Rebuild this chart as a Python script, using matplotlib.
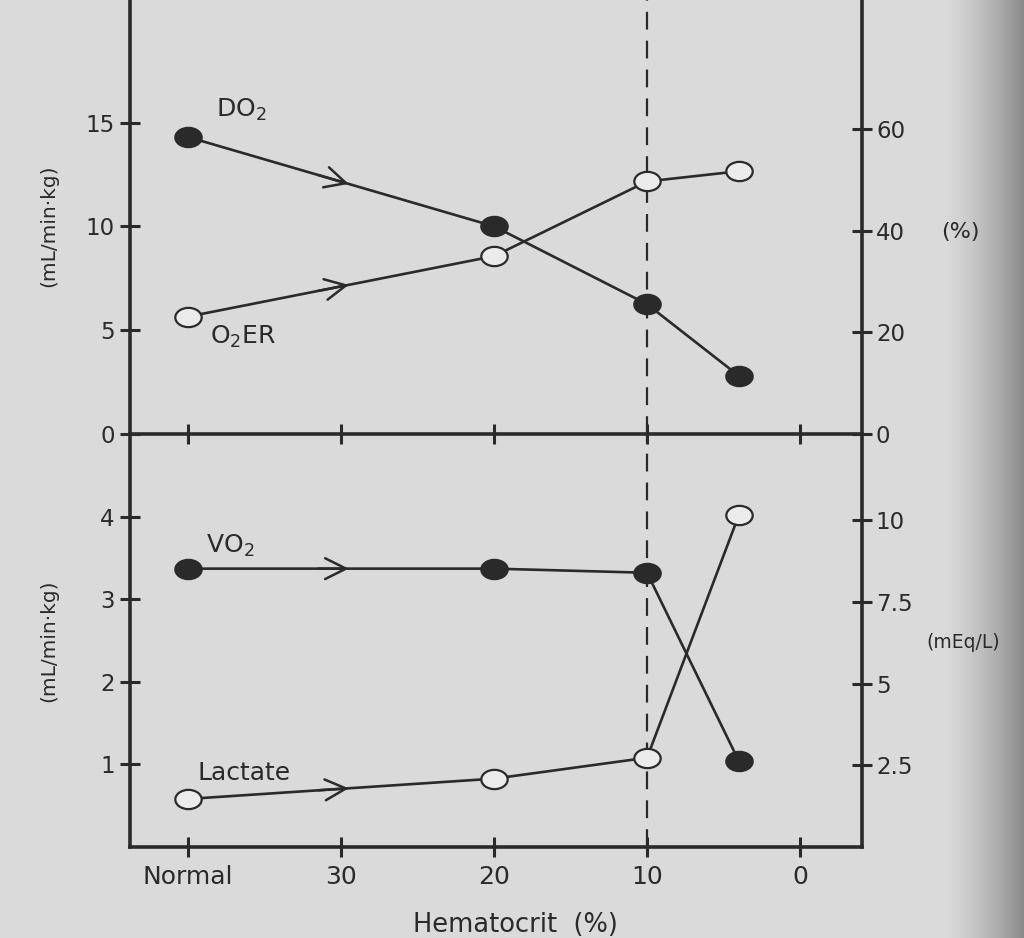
import numpy as np
import matplotlib
matplotlib.use("Agg")
import matplotlib.pyplot as plt
from matplotlib.path import Path
from matplotlib.transforms import Affine2D

# hematocrit steps (40 = "Normal")
hct = [40, 20, 10, 4]
hct_ticks = [40, 30, 20, 10, 0]
hct_labels = ["Normal", "30", "20", "10", "0"]

# top panel
do2 = [14.3, 10.0, 6.25, 2.8]       # mL/min.kg
o2er = [23.1, 35.0, 49.7, 51.7]     # %
# bottom panel
vo2 = [3.37, 3.37, 3.32, 1.04]      # mL/min.kg
lactate = [1.47, 2.09, 2.73, 10.15] # mEq/L

ink = "#2a2a2a"
paper = "#dadada"

plt.rcParams['font.family'] = ['DejaVu Sans']
plt.rcParams['mathtext.fontset'] = 'dejavusans'
plt.rcParams['text.color'] = ink

# squashed ellipse marker like the scan
ell = Affine2D().scale(1.37, 1.0).transform_path(Path.unit_circle())


def on_line(xs, ys, xq):
    return np.interp(xq, xs[::-1], ys[::-1])


def chevron(ax, xs, ys, x_tip=29.5):
    x0 = x_tip + 2.0
    ax.annotate("", xy=(x_tip, on_line(xs, ys, x_tip)),
                xytext=(x0, on_line(xs, ys, x0)),
                arrowprops=dict(arrowstyle="->,head_length=1.0,head_width=0.5",
                                color=ink, lw=1.8, shrinkA=0, shrinkB=0,
                                mutation_scale=15),
                zorder=3)


def series(ax, xs, ys, filled):
    ax.plot(xs, ys, color=ink, lw=1.9, zorder=2,
            marker=ell, markersize=19, markeredgewidth=1.6,
            markeredgecolor=ink,
            markerfacecolor=ink if filled else "#ebebeb")


def style(ax, side):
    for s in ["top", "left", "right", "bottom"]:
        ax.spines[s].set_visible(False)
    ax.patch.set_visible(False)
    ax.tick_params(axis="both", direction="inout", length=14, width=2.2,
                   color=ink, labelcolor=ink, labelsize=16.5)
    if side == "left":
        for s in ["left", "bottom"]:
            ax.spines[s].set_visible(True)
            ax.spines[s].set_linewidth(2.6)
            ax.spines[s].set_color(ink)
        ax.tick_params(axis="y", pad=4)
    else:
        ax.spines["right"].set_visible(True)
        ax.spines["right"].set_linewidth(2.6)
        ax.spines["right"].set_color(ink)
        ax.tick_params(axis="y", pad=3)


fig = plt.figure(figsize=(10.24, 9.38), dpi=100)
fig.patch.set_facecolor(paper)

# page shadow on the right edge of the scan
bg = fig.add_axes([0, 0, 1, 1], zorder=-10)
grad = np.ones((2, 1024)) * 0.855
xx = np.arange(1024)
grad[:, xx > 940] = 0.855 - 0.32 * ((xx[xx > 940] - 940) / 84.0) ** 1.5
bg.imshow(grad, cmap="gray", vmin=0, vmax=1, aspect="auto",
          extent=[0, 1, 0, 1])
bg.axis("off")

left, width = 130 / 1024, 732 / 1024
ax_top = fig.add_axes([left, 504 / 938, width, 434 / 938])
ax_bot = fig.add_axes([left, 91 / 938, width, 413 / 938])
ax_top_r = ax_top.twinx()
ax_bot_r = ax_bot.twinx()

for ax in (ax_top, ax_bot, ax_top_r, ax_bot_r):
    ax.set_xlim(43.8, -4.05)

style(ax_top, "left")
style(ax_bot, "left")
style(ax_top_r, "right")
style(ax_bot_r, "right")

ax_top.set_ylim(0, 20.9)
ax_top_r.set_ylim(0, 85.4)
ax_bot.set_ylim(0, 5.0)
ax_bot_r.set_ylim(0, 12.63)

ax_top.set_yticks([0, 5, 10, 15])
ax_top_r.set_yticks([0, 20, 40, 60])
ax_bot.set_yticks([1, 2, 3, 4])
ax_bot_r.set_yticks([2.5, 5, 7.5, 10])
ax_bot_r.set_yticklabels(["2.5", "5", "7.5", "10"])

ax_top.set_xticks(hct_ticks)
ax_top.tick_params(axis="x", labelbottom=False)
ax_bot.set_xticks(hct_ticks)
ax_bot.set_xticklabels(hct_labels, fontsize=18)
ax_bot.tick_params(axis="x", pad=6)
for ax in (ax_top_r, ax_bot_r):
    ax.tick_params(axis="x", bottom=False, labelbottom=False)

# dashed line at hematocrit 10
for ax in (ax_top, ax_bot):
    ax.axvline(10, color=ink, lw=1.6, ls=(0, (8, 5)), zorder=1)

series(ax_top, hct, do2, True)
series(ax_top_r, hct, o2er, False)
series(ax_bot, hct, vo2, True)
series(ax_bot_r, hct, lactate, False)

chevron(ax_top, hct[:2], do2[:2])
chevron(ax_top_r, hct[:2], o2er[:2])
chevron(ax_bot, hct[:2], vo2[:2])
chevron(ax_bot_r, hct[:2], lactate[:2])

ax_top.text(38.2, 15.6, r"DO$_2$", fontsize=18, va="center")
ax_top.text(38.6, 4.68, r"O$_2$ER", fontsize=18, va="center")
ax_bot.text(38.8, 3.65, r"VO$_2$", fontsize=18, va="center")
ax_bot.text(39.4, 0.9, "Lactate", fontsize=18, va="center")

ax_top.set_ylabel("(mL/min\u00b7kg)", fontsize=14.5, color=ink)
ax_top.yaxis.set_label_coords(-0.098, 0.48)
ax_bot.set_ylabel("(mL/min\u00b7kg)", fontsize=14.5, color=ink)
ax_bot.yaxis.set_label_coords(-0.098, 0.50)
ax_top_r.set_ylabel("(%)", fontsize=16, rotation=0, color=ink, va="center")
ax_top_r.yaxis.set_label_coords(1.134, 0.465)
ax_bot_r.set_ylabel("(mEq/L)", fontsize=13.5, rotation=0, color=ink, va="center")
ax_bot_r.yaxis.set_label_coords(1.138, 0.494)
ax_bot.set_xlabel("Hematocrit  (%)", fontsize=18.5, color=ink)
ax_bot.xaxis.set_label_coords(0.527, -0.157)

fig.savefig("out.png", dpi=100, facecolor=fig.get_facecolor())
